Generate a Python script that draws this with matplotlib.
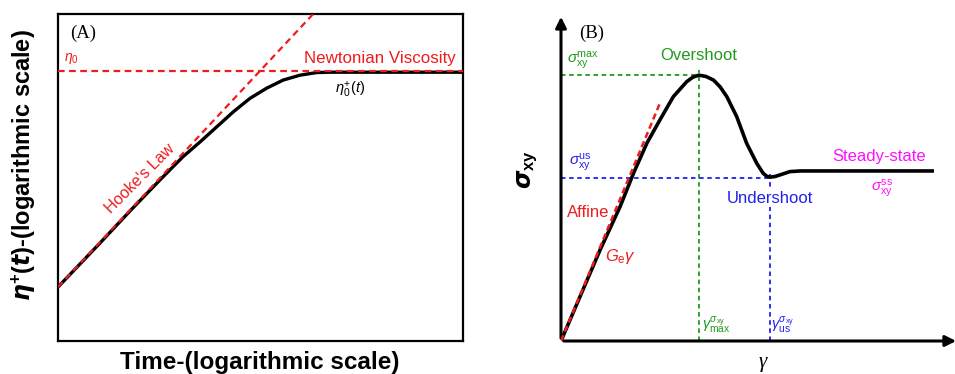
import numpy as np
import matplotlib
matplotlib.use("Agg")
import matplotlib.pyplot as plt

plt.rcParams['font.family'] = ['Liberation Sans', 'DejaVu Sans']
plt.rcParams['mathtext.fontset'] = 'custom'
plt.rcParams['mathtext.rm'] = 'Liberation Sans'
plt.rcParams['mathtext.it'] = 'Liberation Sans:italic'
plt.rcParams['mathtext.bf'] = 'Liberation Sans:bold'

######################### data : panel A (log-log viscosity growth) #########################
time_a = [0, 1.04, 1.78, 2.56, 3.09, 3.51, 3.92, 4.33, 4.74, 5.15, 5.56, 5.98, 6.39, 6.72, 10]
eta_a = [1.65, 3.00, 3.98, 4.98, 5.64, 6.09, 6.55, 7.01, 7.42, 7.73, 7.98, 8.13, 8.21, 8.22, 8.22]
hooke_x = [0, 6.30]
hooke_y = [1.65, 10]
eta0_level = 8.27

######################### data : panel B (stress vs strain) #########################
strain_b = [0, 0.48, 0.99, 1.50, 1.84, 2.18, 2.51, 2.85, 3.19, 3.35, 3.50, 3.68, 3.87,
            4.04, 4.21, 4.46, 4.71, 4.97, 5.13, 5.22, 5.30, 5.43, 5.56, 5.81, 6.07, 9.42]
stress_b = [0, 1.35, 2.78, 4.11, 5.13, 6.05, 6.76, 7.47, 7.93, 8.07, 8.13, 8.09, 7.98,
            7.77, 7.47, 6.86, 6.05, 5.43, 5.13, 5.04, 5.01, 5.03, 5.08, 5.18, 5.20, 5.20]
affine_x = [0, 2.51]
affine_y = [0, 7.27]
gamma_max, sigma_max = 3.50, 8.13
gamma_us, sigma_us = 5.30, 5.00

RED = '#ee1c1c'
GREEN = '#1f9a1f'
BLUE = '#2020ee'
MAGENTA = '#ff10ff'

fig = plt.figure(figsize=(9.55, 3.74), dpi=100)

######################### panel A #########################
ax1 = fig.add_axes([58/955, 33/374, 405/955, 327/374])
ax1.plot(time_a, eta_a, color='black', lw=2.4, zorder=2, solid_joinstyle='round')
ax1.plot(hooke_x, hooke_y, color=RED, lw=1.6, ls=(0, (3, 2)), zorder=3)
ax1.axhline(eta0_level, color=RED, lw=1.6, ls=(0, (3, 2)), zorder=3)
ax1.set_xlim(0, 10)
ax1.set_ylim(0, 10)
ax1.set_xticks([])
ax1.set_yticks([])
for s in ax1.spines.values():
    s.set_linewidth(1.6)

ax1.text(0.62, 9.42, '(A)', family='Liberation Serif', fontsize=13.5, ha='center', va='center')
ax1.text(0.15, 8.65, r'$\eta_0$', color=RED, fontsize=10, ha='left', va='center')
ax1.text(9.83, 8.65, 'Newtonian Viscosity', color=RED, fontsize=12.2, ha='right', va='center')
ax1.text(7.21, 7.68, r'$\eta_0^{+}(t)$', color='black', fontsize=10.5, ha='center', va='center')
ax1.text(2.02, 4.98, "Hooke's Law", color=RED, fontsize=11.5, ha='center', va='center', rotation=45)

fig.text(260/955, 1 - 362/374, 'Time-(logarithmic scale)', fontsize=17.5, fontweight='bold',
         ha='center', va='center')
fig.text(24/955, 1 - 165/374,
         r'$\boldsymbol{\eta}^{\mathbf{+}}\mathbf{(}\boldsymbol{t}\mathbf{)}$-(logarithmic scale)',
         fontsize=17, fontweight='bold', rotation=90, ha='center', va='center')

######################### panel B #########################
ax2 = fig.add_axes([561/955, 33/374, 394/955, 327/374])
ax2.set_xlim(0, 10)
ax2.set_ylim(0, 10)
ax2.set_xticks([])
ax2.set_yticks([])
for s in ax2.spines.values():
    s.set_visible(False)

# axes with arrow heads
ax2.annotate('', xy=(0, 10), xytext=(0, 0), annotation_clip=False,
             arrowprops=dict(arrowstyle='-|>', lw=2.2, color='black', mutation_scale=16))
ax2.annotate('', xy=(10.1, 0), xytext=(0, 0), annotation_clip=False,
             arrowprops=dict(arrowstyle='-|>', lw=2.2, color='black', mutation_scale=16))

# guide lines
ax2.plot([0, gamma_max], [sigma_max, sigma_max], color=GREEN, lw=1.3, ls=(0, (2.5, 2)))
ax2.plot([gamma_max, gamma_max], [0, 8.3], color=GREEN, lw=1.3, ls=(0, (2.5, 2)))
ax2.plot([0, gamma_us], [sigma_us, sigma_us], color=BLUE, lw=1.3, ls=(0, (2.5, 2)))
ax2.plot([gamma_us, gamma_us], [0, 5.15], color=BLUE, lw=1.3, ls=(0, (2.5, 2)))

ax2.plot(strain_b, stress_b, color='black', lw=2.6, zorder=3, solid_joinstyle='round')
ax2.plot(affine_x, affine_y, color=RED, lw=1.8, ls=(0, (2.5, 1.5)), zorder=4)

ax2.text(0.78, 9.41, '(B)', family='Liberation Serif', fontsize=13.5, ha='center', va='center')
ax2.text(0.56, 8.59, r'$\sigma_{\rm xy}^{\rm max}$', color=GREEN, fontsize=11, ha='center', va='center')
ax2.text(3.50, 8.72, 'Overshoot', color=GREEN, fontsize=12, ha='center', va='center')
ax2.text(0.48, 5.47, r'$\sigma_{\rm xy}^{\rm us}$', color=BLUE, fontsize=11, ha='center', va='center')
ax2.text(8.07, 5.63, 'Steady-state', color=MAGENTA, fontsize=12, ha='center', va='center')
ax2.text(8.14, 4.68, r'$\sigma_{\rm xy}^{\rm ss}$', color=MAGENTA, fontsize=11, ha='center', va='center')
ax2.text(gamma_us, 4.37, 'Undershoot', color=BLUE, fontsize=12, ha='center', va='center',
         bbox=dict(facecolor='white', edgecolor='none', pad=1), zorder=5)
ax2.text(0.69, 3.94, 'Affine', color=RED, fontsize=12, ha='center', va='center')
ax2.text(1.50, 2.57, r'$G_{\rm e}\gamma$', color=RED, fontsize=12, ha='center', va='center')
ax2.text(3.95, 0.49, r'$\gamma_{\rm max}^{\sigma_{\rm xy}}$', color=GREEN, fontsize=10.5, ha='center', va='center')
ax2.text(5.63, 0.49, r'$\gamma_{\rm us}^{\sigma_{\rm xy}}$', color=BLUE, fontsize=10.5, ha='center', va='center')

ax2.text(5.12, -0.67, 'γ', family='Liberation Serif', style='italic', fontsize=15,
         ha='center', va='center')
ax2.text(-0.84, 5.23, r'$\boldsymbol{\sigma}_{\mathbf{xy}}$', fontsize=17, rotation=90,
         ha='center', va='center')

plt.savefig('out.png', dpi=100)
